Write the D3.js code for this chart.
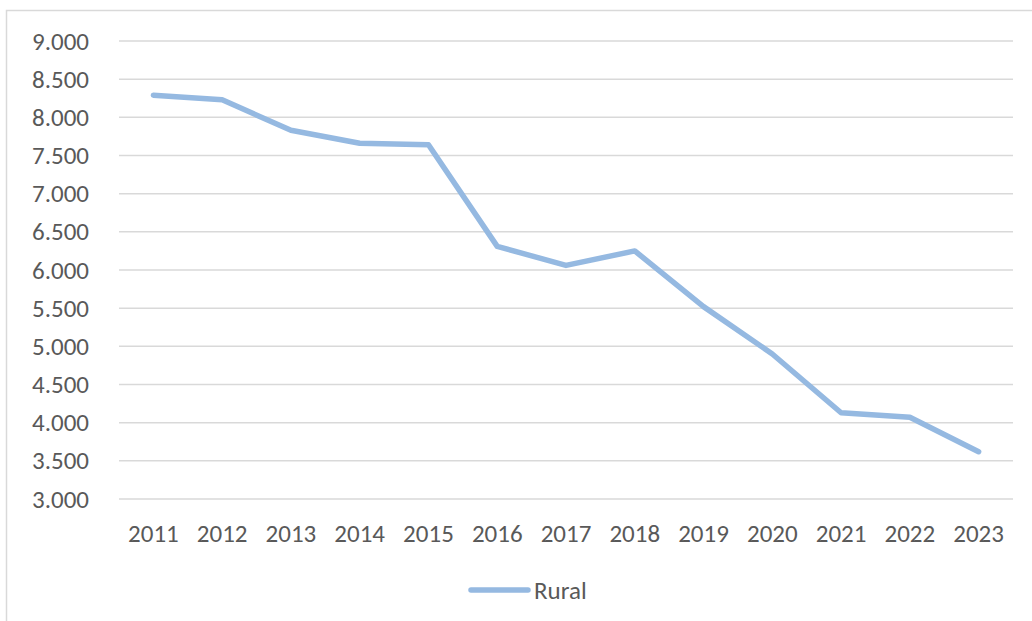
<!DOCTYPE html>
<html>
<head>
<meta charset="utf-8">
<script src="https://cdn.jsdelivr.net/npm/d3@7"></script>
<style>
  html, body { margin: 0; padding: 0; background: #fff; }
  svg { display: block; }
  text { font-family: Carlito, Calibri, Roboto, sans-serif; fill: #595959; }
</style>
</head>
<body>
<svg id="chart" width="1032" height="621"></svg>
<script>
const years = ["2011","2012","2013","2014","2015","2016","2017","2018","2019","2020","2021","2022","2023"];
const rural = [8290, 8230, 7830, 7660, 7640, 6310, 6060, 6250, 5520, 4900, 4130, 4070, 3620];
const yTicks = [3000, 3500, 4000, 4500, 5000, 5500, 6000, 6500, 7000, 7500, 8000, 8500, 9000];
const seriesName = "Rural";

const svg = d3.select("#chart");
const W = 1032, H = 621;
const FS = 25;

// outer frame
svg.append("rect")
  .attr("x", 6.5).attr("y", 10.5)
  .attr("width", W + 10).attr("height", H + 10)
  .attr("fill", "none").attr("stroke", "#d9d9d9").attr("stroke-width", 1.5);

const plot = { left: 119, right: 1013, top: 41, bottom: 499 };

const x = d3.scaleBand().domain(years).range([plot.left, plot.right]);
const y = d3.scaleLinear().domain([3000, 9000]).range([plot.bottom, plot.top]);

// gridlines
svg.append("g").selectAll("line").data(yTicks).join("line")
  .attr("x1", plot.left).attr("x2", plot.right)
  .attr("y1", d => y(d)).attr("y2", d => y(d))
  .attr("stroke", "#d9d9d9").attr("stroke-width", 1.5);

// y axis labels
const yAxis = d3.axisLeft(y).tickValues(yTicks).tickSize(0).tickPadding(0)
  .tickFormat(d => d3.format(".3f")(d / 1000));
const gy = svg.append("g").attr("transform", `translate(89,0)`).call(yAxis);
gy.select(".domain").remove();
gy.selectAll("text").attr("font-size", FS).attr("fill", "#595959")
  .style("font-family", "Carlito, Calibri, Roboto, sans-serif");

// x axis labels
const xAxis = d3.axisBottom(x).tickSize(0).tickPadding(0);
const gx = svg.append("g").attr("transform", `translate(0,${plot.bottom + 25})`).call(xAxis);
gx.select(".domain").remove();
gx.selectAll("text").attr("font-size", FS).attr("fill", "#595959").attr("dy", "0.71em")
  .style("font-family", "Carlito, Calibri, Roboto, sans-serif");

// line
const line = d3.line()
  .x((d, i) => x(years[i]) + x.bandwidth() / 2)
  .y(d => y(d));
svg.append("path").datum(rural)
  .attr("d", line)
  .attr("fill", "none").attr("stroke", "#95b9e1")
  .attr("stroke-width", 5.5).attr("stroke-linecap", "round").attr("stroke-linejoin", "round");

// legend
const lg = svg.append("g");
lg.append("line").attr("x1", 471).attr("x2", 528).attr("y1", 590).attr("y2", 590)
  .attr("stroke", "#95b9e1").attr("stroke-width", 5.5).attr("stroke-linecap", "round");
lg.append("text").attr("x", 534).attr("y", 590).attr("dy", "0.36em")
  .attr("font-size", FS).text(seriesName);
</script>
</body>
</html>
